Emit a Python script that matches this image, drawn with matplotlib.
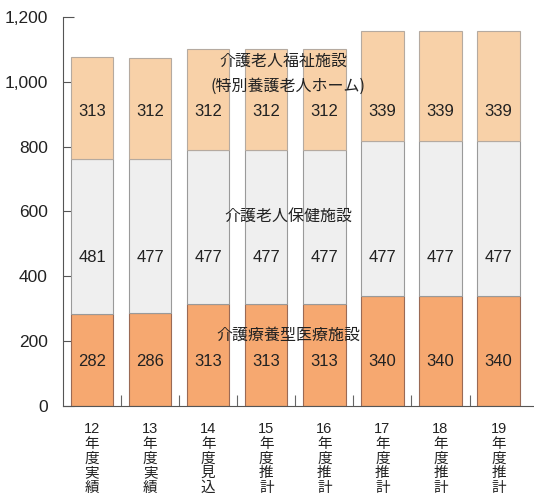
import matplotlib
matplotlib.use("Agg")
from matplotlib import pyplot as plt
from matplotlib.ticker import FuncFormatter

years = ["12", "13", "14", "15", "16", "17", "18", "19"]
kinds = ["実績", "実績", "見込", "推計", "推計", "推計", "推計", "推計"]

# 介護療養型医療施設 / 介護老人保健施設 / 介護老人福祉施設
ryoyo = [282, 286, 313, 313, 313, 340, 340, 340]
hoken = [481, 477, 477, 477, 477, 477, 477, 477]
fukushi = [313, 312, 312, 312, 312, 339, 339, 339]

c_ryoyo = "#f6a870"
c_hoken = "#efefef"
c_fukushi = "#f8d1a8"
txt = "#222222"
cjk = ["Noto Sans CJK JP", "DejaVu Sans"]
narrow = ["Liberation Sans Narrow", "Liberation Sans", "Noto Sans CJK JP"]

fig = plt.figure(figsize=(5.34, 5.01), dpi=100)
ax = fig.add_axes([0.118, 0.19, 0.882, 0.776])

x = list(range(len(years)))
w = 0.73
mid_base = ryoyo
top_base = [a + b for a, b in zip(ryoyo, hoken)]

ax.bar(x, ryoyo, w, color=c_ryoyo, edgecolor="#9a6a55", linewidth=0.8, zorder=2)
ax.bar(x, hoken, w, bottom=mid_base, color=c_hoken, edgecolor="#9a9a9a", linewidth=0.8, zorder=2)
ax.bar(x, fukushi, w, bottom=top_base, color=c_fukushi, edgecolor="#b5aaa0", linewidth=0.8, zorder=2)

# value labels sit on fixed rows
for i in x:
    ax.text(i, 136, str(ryoyo[i]), ha="center", va="center", fontsize=12, color=txt, family=narrow, zorder=3)
    ax.text(i, 458, str(hoken[i]), ha="center", va="center", fontsize=12, color=txt, family=narrow, zorder=3)
    ax.text(i, 907, str(fukushi[i]), ha="center", va="center", fontsize=12, color=txt, family=narrow, zorder=3)

# category names
ax.text(3.3, 1062, "介護老人福祉施設", ha="center", va="center", fontsize=11.5, color=txt, family=cjk, zorder=3)
ax.text(3.38, 985, "(特別養護老人ホーム)", ha="center", va="center", fontsize=11.5, color=txt, family=cjk, zorder=3)
ax.text(3.38, 586, "介護老人保健施設", ha="center", va="center", fontsize=11.5, color=txt, family=cjk, zorder=3)
ax.text(3.38, 219, "介護療養型医療施設", ha="center", va="center", fontsize=11.5, color=txt, family=cjk, zorder=3)

ax.set_xlim(-0.5, 7.61)
ax.set_ylim(0, 1200)
ax.set_yticks(range(0, 1201, 200))
ax.yaxis.set_major_formatter(FuncFormatter(lambda v, p: f"{int(v):,}"))
for lab in ax.get_yticklabels():
    lab.set_family(["Liberation Sans", "DejaVu Sans"])
ax.tick_params(axis="y", direction="in", length=8, width=0.8, color="#555555",
               labelsize=12.5, labelcolor=txt, pad=11)

# vertical stacked year labels
ax.set_xticks(x)
ax.set_xticklabels([y + "\n" + "\n".join("年度" + k) for y, k in zip(years, kinds)],
                   fontsize=10.5, color=txt, linespacing=1.05, family=narrow)
ax.tick_params(axis="x", length=0, pad=12)
ax.set_xticks([i + 0.5 for i in range(len(years) - 1)], minor=True)
ax.tick_params(axis="x", which="minor", direction="in", length=8, width=0.8, color="#666666")

for s in ["top", "right"]:
    ax.spines[s].set_visible(False)
for s in ["left", "bottom"]:
    ax.spines[s].set_color("#555555")
    ax.spines[s].set_linewidth(0.8)

fig.savefig("out.png", dpi=100)
